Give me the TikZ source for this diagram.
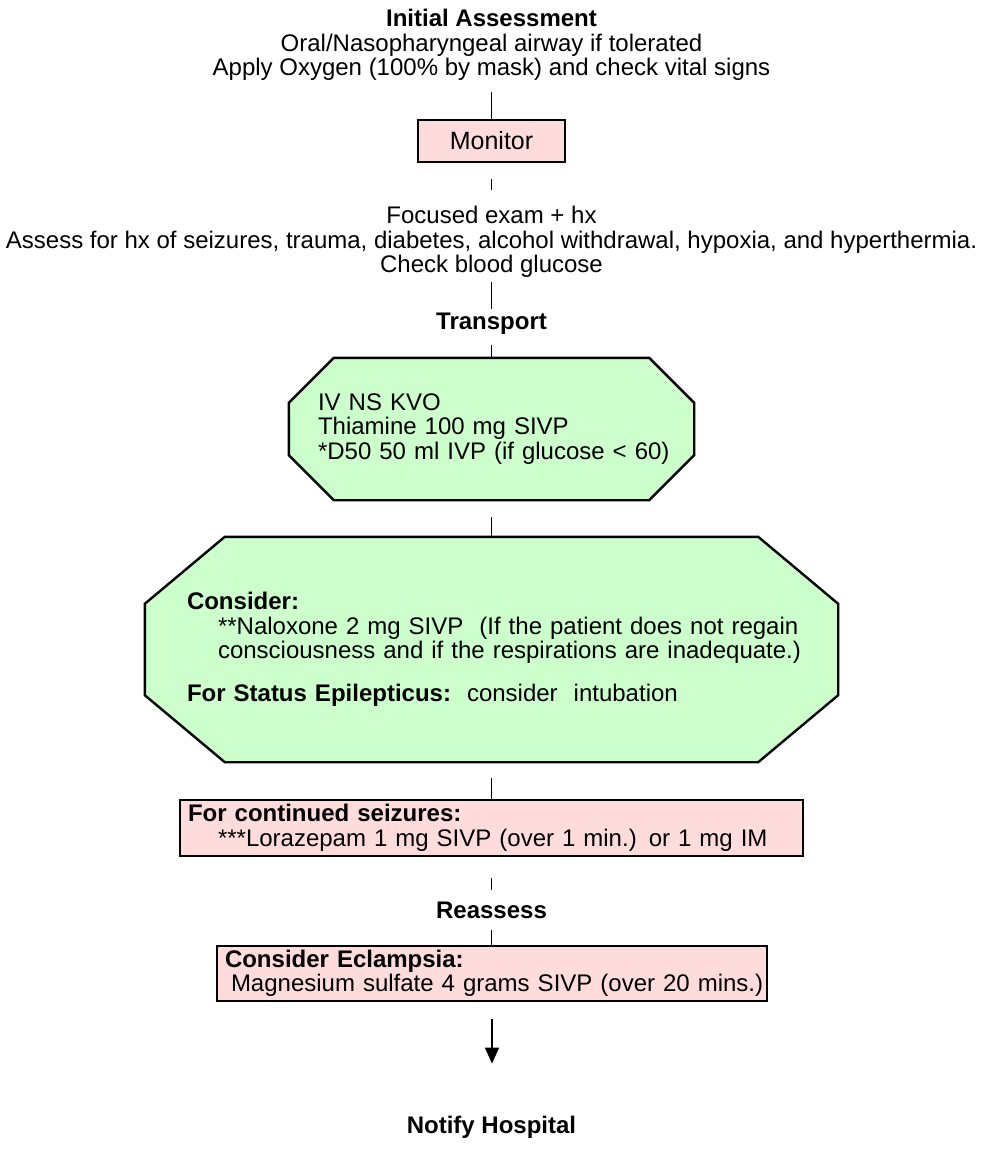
\documentclass[tikz,border=0pt]{standalone}
\usepackage{fontspec}
\setmainfont{Liberation Sans}
\usetikzlibrary{calc,arrows.meta,backgrounds}
\definecolor{pinkfill}{RGB}{255,220,220}
\definecolor{greenfill}{RGB}{204,255,204}
\begin{document}
\begin{tikzpicture}[x=1pt,y=-1pt,
  every node/.style={inner sep=0pt},
  txt/.style={font=\fontsize{24}{24.5}\selectfont, align=center},
  hd/.style={font=\fontsize{24}{24.5}\selectfont\bfseries, align=center},
  boxtxt/.style={font=\fontsize{24}{24.5}\selectfont, align=left},
  pinkbox/.style={boxtxt, draw=black, line width=2.4pt, fill=pinkfill, rectangle},
  octbody/.style={boxtxt, rectangle},
  octline/.style={draw=black, line width=2.4pt, fill=greenfill, line join=miter},
  link/.style={draw=black, line width=1.4pt},
  arrowlink/.style={link, -{Triangle[length=16pt,width=14pt]}}
]
% page frame
\useasboundingbox (0,0) rectangle (982,1164);

% header text
\node[txt] (init) at (491.5,45) {\textbf{Initial Assessment}\\Oral/Nasopharyngeal airway if tolerated\\Apply Oxygen (100\% by mask) and check vital signs};

\node[pinkbox, align=center, font=\fontsize{25}{26}\selectfont, minimum width=147, minimum height=42] (monitor) at (491.5,141) {Monitor};

\node[txt] (focus) at (491.5,242) {Focused exam + hx\\Assess for hx of seizures, trauma, diabetes, alcohol withdrawal, hypoxia, and hyperthermia.\\Check blood glucose};

\node[hd] (transport) at (491.5,324) {Transport};

% first octagon
\node[octbody, minimum width=405, minimum height=142, text width=347] (oct1) at (491.5,429)
  {IV NS KVO\\Thiamine 100 mg SIVP\\\mbox{*D50 50 ml IVP (if glucose < 60)}};

% second octagon
\node[octbody, minimum width=693, minimum height=225, text width=609] (oct2) at (491.5,649.5)
  {\textbf{Consider:}\\
   \hspace*{31pt}\mbox{**Naloxone 2 mg SIVP\ \ (If the patient does not regain}\\
   \hspace*{31pt}\mbox{consciousness and if the respirations are inadequate.)}\\[18pt]
   \textbf{For Status Epilepticus:}\ \ consider\ \ intubation};

\begin{scope}[on background layer]
  \path[octline] ($(oct1.north west)+(45,0)$) -- ($(oct1.north east)+(-45,0)$)
    -- ($(oct1.north east)+(0,45)$) -- ($(oct1.south east)+(0,-45)$)
    -- ($(oct1.south east)+(-45,0)$) -- ($(oct1.south west)+(45,0)$)
    -- ($(oct1.south west)+(0,-45)$) -- ($(oct1.north west)+(0,45)$) -- cycle;
  \path[octline] ($(oct2.north west)+(80,0)$) -- ($(oct2.north east)+(-80,0)$)
    -- ($(oct2.north east)+(0,67)$) -- ($(oct2.south east)+(0,-67)$)
    -- ($(oct2.south east)+(-80,0)$) -- ($(oct2.south west)+(80,0)$)
    -- ($(oct2.south west)+(0,-67)$) -- ($(oct2.north west)+(0,67)$) -- cycle;
\end{scope}

\node[pinkbox, minimum width=623, minimum height=56, text width=607] (seiz) at (491.5,828)
  {\textbf{For continued seizures:}\\
   \hspace*{30pt}\mbox{***Lorazepam 1 mg SIVP (over 1 min.) or 1 mg IM}};

\node[hd] (reassess) at (491.5,910) {Reassess};

\node[pinkbox, minimum width=550, minimum height=55, text width=534] (eclamp) at (492,973.5)
  {\textbf{Consider Eclampsia:}\\
   \hspace*{6pt}\mbox{Magnesium sulfate 4 grams SIVP (over 20 mins.)}};

\node[hd] (notify) at (491.5,1127) {Notify Hospital};

% connectors
\draw[link, shorten <=11pt] (init.south) -- (monitor.north);
\draw[link, shorten <=16pt, shorten >=16pt] (monitor.south) -- (focus.north);
\draw[link, shorten <=4pt, shorten >=4pt] (focus.south) -- (transport.north);
\draw[link, shorten <=10pt] (transport.south) -- (oct1.north);
\draw[link, shorten <=17pt] (oct1.south) -- (oct2.north);
\draw[link, shorten <=16pt] (oct2.south) -- (seiz.north);
\draw[link, shorten <=21pt, shorten >=11pt] (seiz.south) -- (reassess.north);
\draw[link, shorten <=11pt] (reassess.south) -- (reassess.south |- eclamp.north);
\draw[arrowlink, shorten <=17pt, shorten >=52pt] (eclamp.south) -- (eclamp.south |- notify.north);
\end{tikzpicture}
\end{document}
